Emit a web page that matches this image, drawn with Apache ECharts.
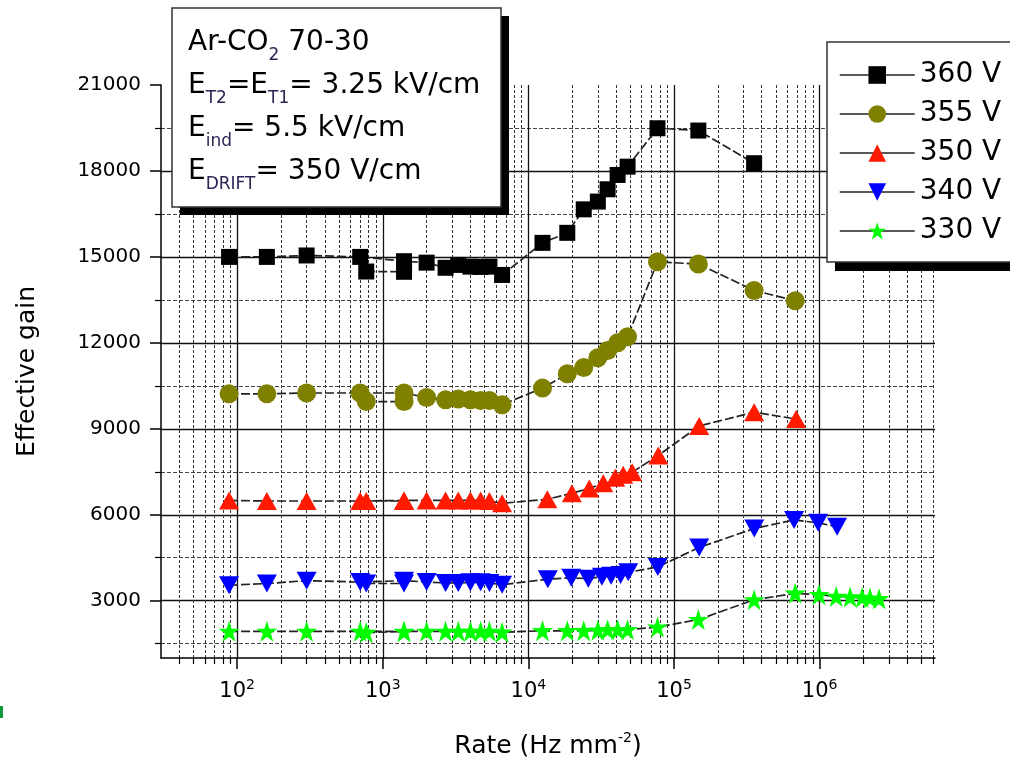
<!DOCTYPE html>
<html><head><meta charset="utf-8">
<script src="https://cdn.jsdelivr.net/npm/echarts@6/dist/echarts.min.js"></script>
<style>html,body{margin:0;padding:0;background:#fff}#c{width:1010px;height:758px}</style>
</head><body><div id="c"></div>
<script>
const FONT = 'DejaVu Sans';
const seriesNames = ['360 V', '355 V', '350 V', '340 V', '330 V'];
const seriesColors = ['#000000', '#808000', '#ff1a00', '#0000ff', '#00ff00'];

// Rates (Hz mm^-2)
const rateLowA = [88, 160, 300, 700, 1400, 2000, 2700, 3300, 4000, 4700, 5400, 6600];
const rateLowB = [770, 1400];
const rate360High = [12500, 18500, 24000, 30000, 35000, 41000, 48000, 77000, 147000, 355000];
const rate355High = [12500, 18500, 24000, 30000, 35000, 41000, 48000, 77000, 147000, 355000, 680000];
const rate350High = [13500, 19900, 26200, 32700, 39500, 44800, 51600, 78000, 149000, 355000, 690000];
const rate340High = [13600, 19700, 25800, 32000, 37000, 43000, 48500, 77400, 149000, 356000, 668000, 977000, 1318000];
const rate330High = [12500, 18500, 24000, 30000, 35000, 41000, 48000, 77000, 147000, 355000, 680000, 990000, 1300000, 1620000, 1960000, 2220000, 2560000];

// Effective gain
const gain360LowA = [15000, 15000, 15050, 15000, 14850, 14800, 14620, 14720, 14660, 14650, 14660, 14370];
const gain360LowB = [14490, 14480];
const gain360High = [15490, 15840, 16660, 16930, 17360, 17860, 18150, 19490, 19410, 18270];
const gain355LowA = [10220, 10220, 10250, 10250, 10250, 10090, 10010, 10040, 10010, 9990, 9990, 9840];
const gain355LowB = [9950, 9950];
const gain355High = [10420, 10920, 11140, 11480, 11730, 12000, 12210, 14830, 14750, 13830, 13470];
const gain350LowA = [6500, 6480, 6480, 6480, 6500, 6500, 6500, 6500, 6500, 6500, 6480, 6400];
const gain350LowB = [6480, 6480];
const gain350High = [6540, 6750, 6920, 7100, 7290, 7400, 7480, 8070, 9100, 9580, 9340];
const gain340LowA = [3540, 3600, 3700, 3650, 3700, 3650, 3620, 3620, 3640, 3640, 3620, 3560];
const gain340LowB = [3600, 3600];
const gain340High = [3750, 3800, 3770, 3840, 3870, 3900, 3990, 4180, 4860, 5520, 5815, 5720, 5580];
const gain330LowA = [1930, 1930, 1930, 1930, 1930, 1930, 1930, 1930, 1930, 1930, 1930, 1900];
const gain330LowB = [1890, 1920];
const gain330High = [1950, 1950, 1950, 1970, 1990, 1990, 1990, 2080, 2340, 3030, 3260, 3210, 3150, 3130, 3110, 3090, 3070];

// Axis ticks
const xMin = 30, xMax = 6.2e6;
const xDecades = [100, 1000, 10000, 100000, 1000000];
const yMin = 1000, yMax = 21000;
const yMajor = [3000, 6000, 9000, 12000, 15000, 18000, 21000];
const yMinor = [1500, 4500, 7500, 10500, 13500, 16500, 19500];

const xMinor = [];
for (let n = 1; n <= 6; n++) {
  for (let k = 2; k <= 9; k++) {
    const v = k * Math.pow(10, n);
    if (v > xMin * 1.01 && v <= xMax) xMinor.push(Math.log10(v));
  }
}

function pts(rates, gains) { return rates.map((r, i) => [Math.log10(r), gains[i]]); }
function build(lowA, high, rateHigh, lowB) {
  return pts(rateLowA.concat(rateHigh), lowA.concat(high)).concat([[null, null]]).concat(pts(rateLowB, lowB));
}
const seriesData = [
  build(gain360LowA, gain360High, rate360High, gain360LowB),
  build(gain355LowA, gain355High, rate355High, gain355LowB),
  build(gain350LowA, gain350High, rate350High, gain350LowB),
  build(gain340LowA, gain340High, rate340High, gain340LowB),
  build(gain330LowA, gain330High, rate330High, gain330LowB)
];
const STAR = 'path://M50,0 L61.8,35.4 L100,35.4 L69.1,57.3 L80.9,95.1 L50,72.4 L19.1,95.1 L30.9,57.3 L0,35.4 L38.2,35.4 Z';
const symbols = ['rect', 'circle', 'triangle', 'triangle', STAR];
const symbolSizes = [16, 19, [20, 18], [20, 18], 21];
const symbolRotates = [0, 0, 0, 180, 0];

const chart = echarts.init(document.getElementById('c'), null, {renderer: 'canvas'});
const axisLineStyle = {color: '#000', width: 1.5};
const option = {
  animation: false,
  backgroundColor: '#fff',
  grid: {left: 161, right: 75, top: 85, bottom: 100, containLabel: false, outerBoundsMode: 'none'},
  xAxis: [
    {
      type: 'value', min: Math.log10(xMin), max: Math.log10(xMax),
      name: 'Rate (Hz mm{sup|-2})', nameLocation: 'middle', nameGap: 73,
      nameTextStyle: {fontFamily: FONT, fontSize: 25, color: '#000', lineHeight: 30,
        rich: {sup: {fontFamily: FONT, fontSize: 14, verticalAlign: 'top', lineHeight: 12, color: '#000'}}},
      axisLine: {show: true, onZero: false, lineStyle: axisLineStyle},
      axisTick: {show: true, inside: false, length: 11, customValues: xDecades.map(Math.log10), lineStyle: {color: '#000', width: 1.5}},
      axisLabel: {show: true, customValues: xDecades.map(Math.log10), margin: 20,
        fontFamily: FONT, fontSize: 21, color: '#000', lineHeight: 28,
        formatter: v => '10{sup|' + Math.round(v) + '}',
        rich: {sup: {fontFamily: FONT, fontSize: 14, verticalAlign: 'top', lineHeight: 12, color: '#000'}}},
      splitLine: {show: true, lineStyle: {color: '#111', width: 1.3, type: 'solid'}}
    },
    {
      type: 'value', min: Math.log10(xMin), max: Math.log10(xMax), position: 'bottom',
      axisLine: {show: false, onZero: false},
      axisTick: {show: true, length: 6, customValues: xMinor, lineStyle: {color: '#000', width: 1.2}},
      axisLabel: {show: false},
      splitLine: {show: true, lineStyle: {color: '#333', width: 1, type: [3, 2]}}
    }
  ],
  yAxis: [
    {
      type: 'value', min: yMin, max: yMax,
      name: 'Effective gain', nameLocation: 'middle', nameGap: 121, nameRotate: 90,
      nameTextStyle: {fontFamily: FONT, fontSize: 25, color: '#000'},
      axisLine: {show: true, onZero: false, lineStyle: axisLineStyle},
      axisTick: {show: true, length: 11, customValues: yMajor, lineStyle: {color: '#000', width: 1.5}},
      axisLabel: {show: true, customValues: yMajor, margin: 20, fontFamily: FONT, fontSize: 20, color: '#000',
        formatter: v => String(Math.round(v))},
      splitLine: {show: true, showMaxLine: false, lineStyle: {color: '#111', width: 1.3, type: 'solid'}}
    },
    {
      type: 'value', min: yMin, max: yMax, position: 'left',
      axisLine: {show: false, onZero: false},
      axisTick: {show: true, length: 6, customValues: yMinor, lineStyle: {color: '#000', width: 1.2}},
      axisLabel: {show: false},
      splitLine: {show: true, lineStyle: {color: '#444', width: 1, type: [4, 2]}}
    }
  ],
  legend: {
    orient: 'vertical', left: 827, top: 42,
    data: seriesNames,
    itemWidth: 75, itemHeight: 22, itemGap: 11,
    padding: [19, 24, 17, 12],
    backgroundColor: '#fff', borderColor: '#333', borderWidth: 1.5,
    textStyle: {fontFamily: FONT, fontSize: 28, color: '#000'},
    lineStyle: {type: 'solid', color: '#222', width: 1.5},
    selectedMode: false,
    z: 20
  },
  graphic: [
    // legend box shadow
    {type: 'rect', shape: {x: 835, y: 50, width: 200, height: 221}, style: {fill: '#000'}, z: 10},
    // annotation box
    {type: 'rect', shape: {x: 180, y: 16, width: 329, height: 199}, style: {fill: '#000'}, z: 100},
    {type: 'rect', shape: {x: 172, y: 8, width: 329, height: 199}, style: {fill: '#fff', stroke: '#333', lineWidth: 1.5}, z: 101},
    {type: 'text', x: 188, y: 21, z: 102, style: {
      text: '{m|Ar-CO}{s|2}{m| 70-30}\n{m|E}{s|T2}{m|=E}{s|T1}{m|= 3.25 kV/cm}\n{m|E}{s|ind}{m|= 5.5 kV/cm}\n{m|E}{s|DRIFT}{m|= 350 V/cm}',
      fill: '#000', fontFamily: FONT, fontSize: 28,
      rich: {
        m: {fontFamily: FONT, fontSize: 28, lineHeight: 43, fill: '#000', color: '#000'},
        s: {fontFamily: FONT, fontSize: 17, lineHeight: 12, verticalAlign: 'bottom', fill: '#2e2555', color: '#2e2555'}
      }
    }},
    {type: 'rect', shape: {x: 0, y: 706, width: 3, height: 12}, style: {fill: '#0a9a3a'}, z: 5}
  ],
  series: seriesNames.map((name, i) => ({
    name: name, type: 'line', xAxisIndex: 0, yAxisIndex: 0,
    data: seriesData[i],
    symbol: symbols[i], symbolSize: symbolSizes[i], symbolRotate: symbolRotates[i],
    itemStyle: {color: seriesColors[i]},
    lineStyle: {color: '#222', width: 1.7, type: [9, 3]},
    connectNulls: false,
    z: 3 + i
  }))
};
chart.setOption(option);
</script></body></html>
